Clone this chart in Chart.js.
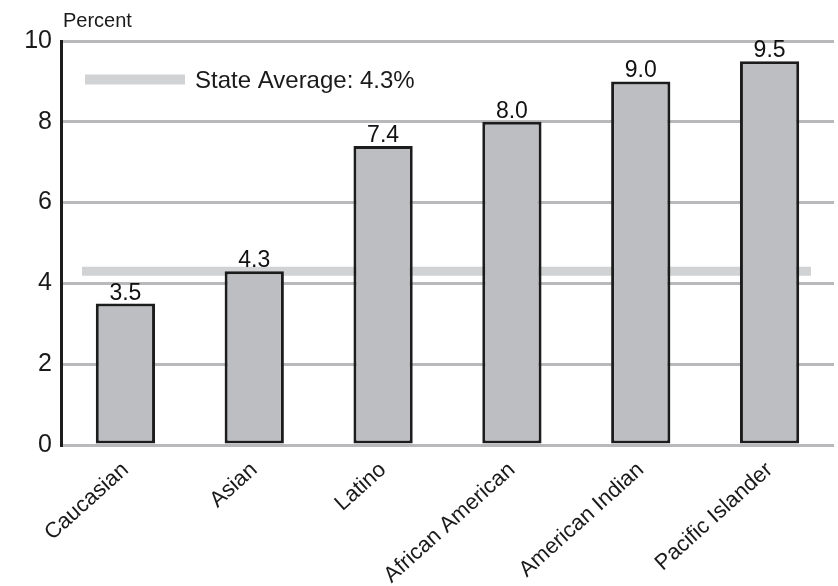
<!DOCTYPE html>
<html>
<head>
<meta charset="utf-8">
<title>Percent by group</title>
<script src="https://cdn.jsdelivr.net/npm/chart.js@4.4.1/dist/chart.umd.min.js"></script>
<style>
	body { margin: 0; background: #fff; }
	#wrap { width: 838px; height: 586px; }
</style>
</head>
<body>
<div id="wrap"><canvas id="myChart" width="838" height="586"></canvas></div>
<script>
// chart data
var groups = ['Caucasian', 'Asian', 'Latino', 'African American', 'American Indian', 'Pacific Islander'];
var percents = [3.5, 4.3, 7.4, 8.0, 9.0, 9.5];
var yTicks = [0, 2, 4, 6, 8, 10];
var stateAverage = [4.3];
var averageLabel = ['State Average: 4.3%'];

var FONT = '"Liberation Sans", Arial, sans-serif';

// average line behind the bars, legend, titles and value labels
var extrasPlugin = {
	id: 'extras',
	beforeDatasetsDraw: function(chart) {
		var ctx = chart.ctx;
		var area = chart.chartArea;
		var y = chart.scales.y.getPixelForValue(stateAverage[0]);
		ctx.save();
		ctx.strokeStyle = '#d1d2d4';
		ctx.lineWidth = 9;
		ctx.beginPath();
		ctx.moveTo(area.left + 21, y);
		ctx.lineTo(area.right - 23, y);
		ctx.stroke();
		ctx.restore();
	},
	afterDatasetsDraw: function(chart) {
		var ctx = chart.ctx;
		var meta = chart.getDatasetMeta(0);
		ctx.save();
		// value labels
		ctx.fillStyle = '#111';
		ctx.font = '23px ' + FONT;
		ctx.textAlign = 'center';
		ctx.textBaseline = 'alphabetic';
		meta.data.forEach(function(bar, i) {
			ctx.fillText(percents[i].toFixed(1), bar.x, bar.y - 4);
		});
		// legend
		ctx.strokeStyle = '#d1d2d4';
		ctx.lineWidth = 10;
		ctx.beginPath();
		ctx.moveTo(85, 79.5);
		ctx.lineTo(185, 79.5);
		ctx.stroke();
		ctx.fillStyle = '#1a1a1a';
		ctx.textAlign = 'left';
		ctx.font = '24px ' + FONT;
		ctx.fillText(averageLabel[0], 195, 88);
		// axis title
		ctx.font = '20px ' + FONT;
		ctx.fillText('Percent', 63, 27);
		ctx.restore();
	}
};

function loadChart() {
	var ctx = document.getElementById('myChart');
	var myChart = new Chart(ctx, {
		type: 'bar',
		data: {
			labels: groups,
			datasets: [{
				data: percents,
				backgroundColor: '#bdbec2',
				borderColor: '#1c1c1c',
				borderWidth: 3,
				borderSkipped: false,
				barPercentage: 0.46,
				categoryPercentage: 1
			}]
		},
		options: {
			responsive: false,
			animation: false,
			layout: { padding: { top: 41, right: 4, left: 0, bottom: 0 } },
			plugins: {
				legend: { display: false },
				tooltip: { enabled: false }
			},
			scales: {
				x: {
					grid: { display: false },
					border: { display: false },
					ticks: {
						color: '#1a1a1a',
						font: { family: FONT, size: 22 },
						maxRotation: 42,
						minRotation: 42,
						padding: 4,
						autoSkip: false
					},
					afterFit: function(scale) { scale.height = 141; }
				},
				y: {
					min: 0,
					max: 10,
					afterBuildTicks: function(scale) {
						scale.ticks = yTicks.map(function(v) { return { value: v }; });
					},
					grid: { color: '#b9b9bc', lineWidth: 3, drawTicks: false },
					border: { color: '#1c1c1c', width: 3 },
					ticks: {
						color: '#1a1a1a',
						font: { family: FONT, size: 25 },
						padding: 9
					},
					afterFit: function(scale) { scale.width = 61; }
				}
			}
		},
		plugins: [extrasPlugin]
	});
}

loadChart();
</script>
</body>
</html>
